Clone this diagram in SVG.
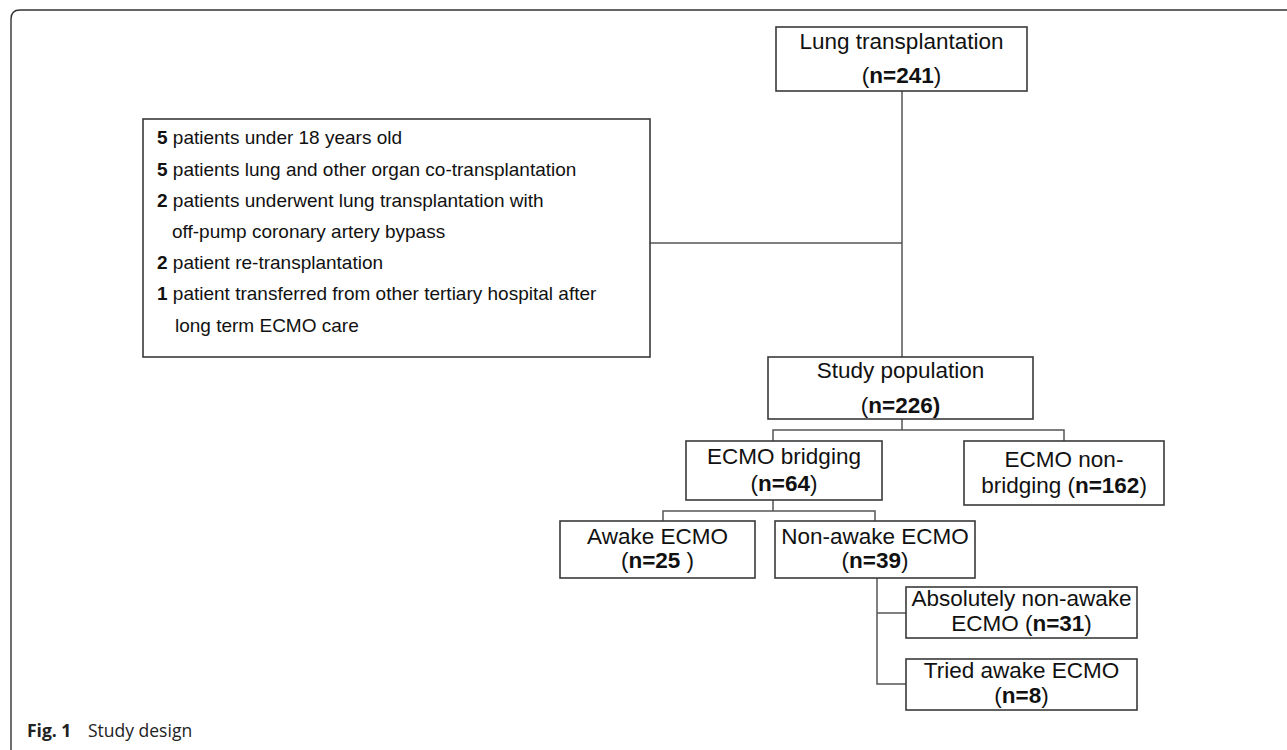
<svg xmlns="http://www.w3.org/2000/svg" width="1287" height="750" viewBox="0 0 1287 750">
<style>
.box{fill:#fff;stroke:#3a3a3a;stroke-width:1.6}
.t{font-family:"Liberation Sans",Arial,sans-serif;font-size:22.5px;fill:#111;text-anchor:middle}
.l{font-family:"Liberation Sans",Arial,sans-serif;font-size:19px;fill:#111}
.b{font-weight:bold}
.c{fill:none;stroke:#555;stroke-width:1.5}
.cap{font-family:"Open Sans","Noto Sans",sans-serif;font-size:17.5px;fill:#222}
</style>
<rect width="1287" height="750" fill="#fff"/>
<path d="M11,750 V19 Q11,10 20,10 H1287" fill="none" stroke="#333" stroke-width="1.4"/>
<g id="connectors">
<path class="c" d="M902,91 V357"/>
<path class="c" d="M650,243 H902"/>
<path class="c" d="M902,419 V430 M773,441 V430 H1064 V441"/>
<path class="c" d="M773,500 V511 M663,521 V511 H875 V521"/>
<path class="c" d="M877,578 V684 H906 M877,613 H906"/>
</g>
<g id="lung">
<rect class="box" x="776" y="27" width="251" height="64"/>
<text class="t" x="901.5" y="49">Lung transplantation</text>
<text class="t" x="901.5" y="83">(<tspan class="b">n=241</tspan>)</text>
</g>
<g id="exclusion">
<rect class="box" x="143" y="119" width="507" height="238"/>
<text class="l" x="157" y="144"><tspan class="b">5</tspan> patients under 18 years old</text>
<text class="l" x="157" y="176"><tspan class="b">5</tspan> patients lung and other organ co-transplantation</text>
<text class="l" x="157" y="207"><tspan class="b">2</tspan> patients underwent lung transplantation with</text>
<text class="l" x="172" y="238">off-pump coronary artery bypass</text>
<text class="l" x="157" y="269"><tspan class="b">2</tspan> patient re-transplantation</text>
<text class="l" x="157" y="300"><tspan class="b">1</tspan> patient transferred from other tertiary hospital after</text>
<text class="l" x="175" y="332">long term ECMO care</text>
</g>
<g id="study">
<rect class="box" x="768" y="357" width="265" height="62"/>
<text class="t" x="900.5" y="378">Study population</text>
<text class="t" x="900.5" y="413">(<tspan class="b">n=226)</tspan></text>
</g>
<g id="bridging">
<rect class="box" x="686" y="441" width="196" height="59"/>
<text class="t" x="784" y="464">ECMO bridging</text>
<text class="t" x="784" y="491">(<tspan class="b">n=64</tspan>)</text>
</g>
<g id="nonbridging">
<rect class="box" x="964" y="441" width="200" height="64"/>
<text class="t" x="1064" y="467">ECMO non-</text>
<text class="t" x="1064" y="493">bridging (<tspan class="b">n=162</tspan>)</text>
</g>
<g id="awake">
<rect class="box" x="560" y="521" width="195" height="57"/>
<text class="t" x="657.5" y="544">Awake ECMO</text>
<text class="t" x="657.5" y="568">(<tspan class="b">n=25</tspan> )</text>
</g>
<g id="nonawake">
<rect class="box" x="775" y="521" width="200" height="57"/>
<text class="t" x="875" y="544">Non-awake ECMO</text>
<text class="t" x="875" y="568">(<tspan class="b">n=39</tspan>)</text>
</g>
<g id="absolutely">
<rect class="box" x="906" y="587" width="231" height="51"/>
<text class="t" x="1021.5" y="606">Absolutely non-awake</text>
<text class="t" x="1021.5" y="631">ECMO (<tspan class="b">n=31</tspan>)</text>
</g>
<g id="tried">
<rect class="box" x="906" y="659" width="231" height="51"/>
<text class="t" x="1021.5" y="678">Tried awake ECMO</text>
<text class="t" x="1021.5" y="703">(<tspan class="b">n=8</tspan>)</text>
</g>
<g id="caption">
<text class="cap" x="27" y="737"><tspan font-weight="bold">Fig. 1</tspan></text>
<text class="cap" x="88" y="737">Study design</text>
</g>
</svg>
